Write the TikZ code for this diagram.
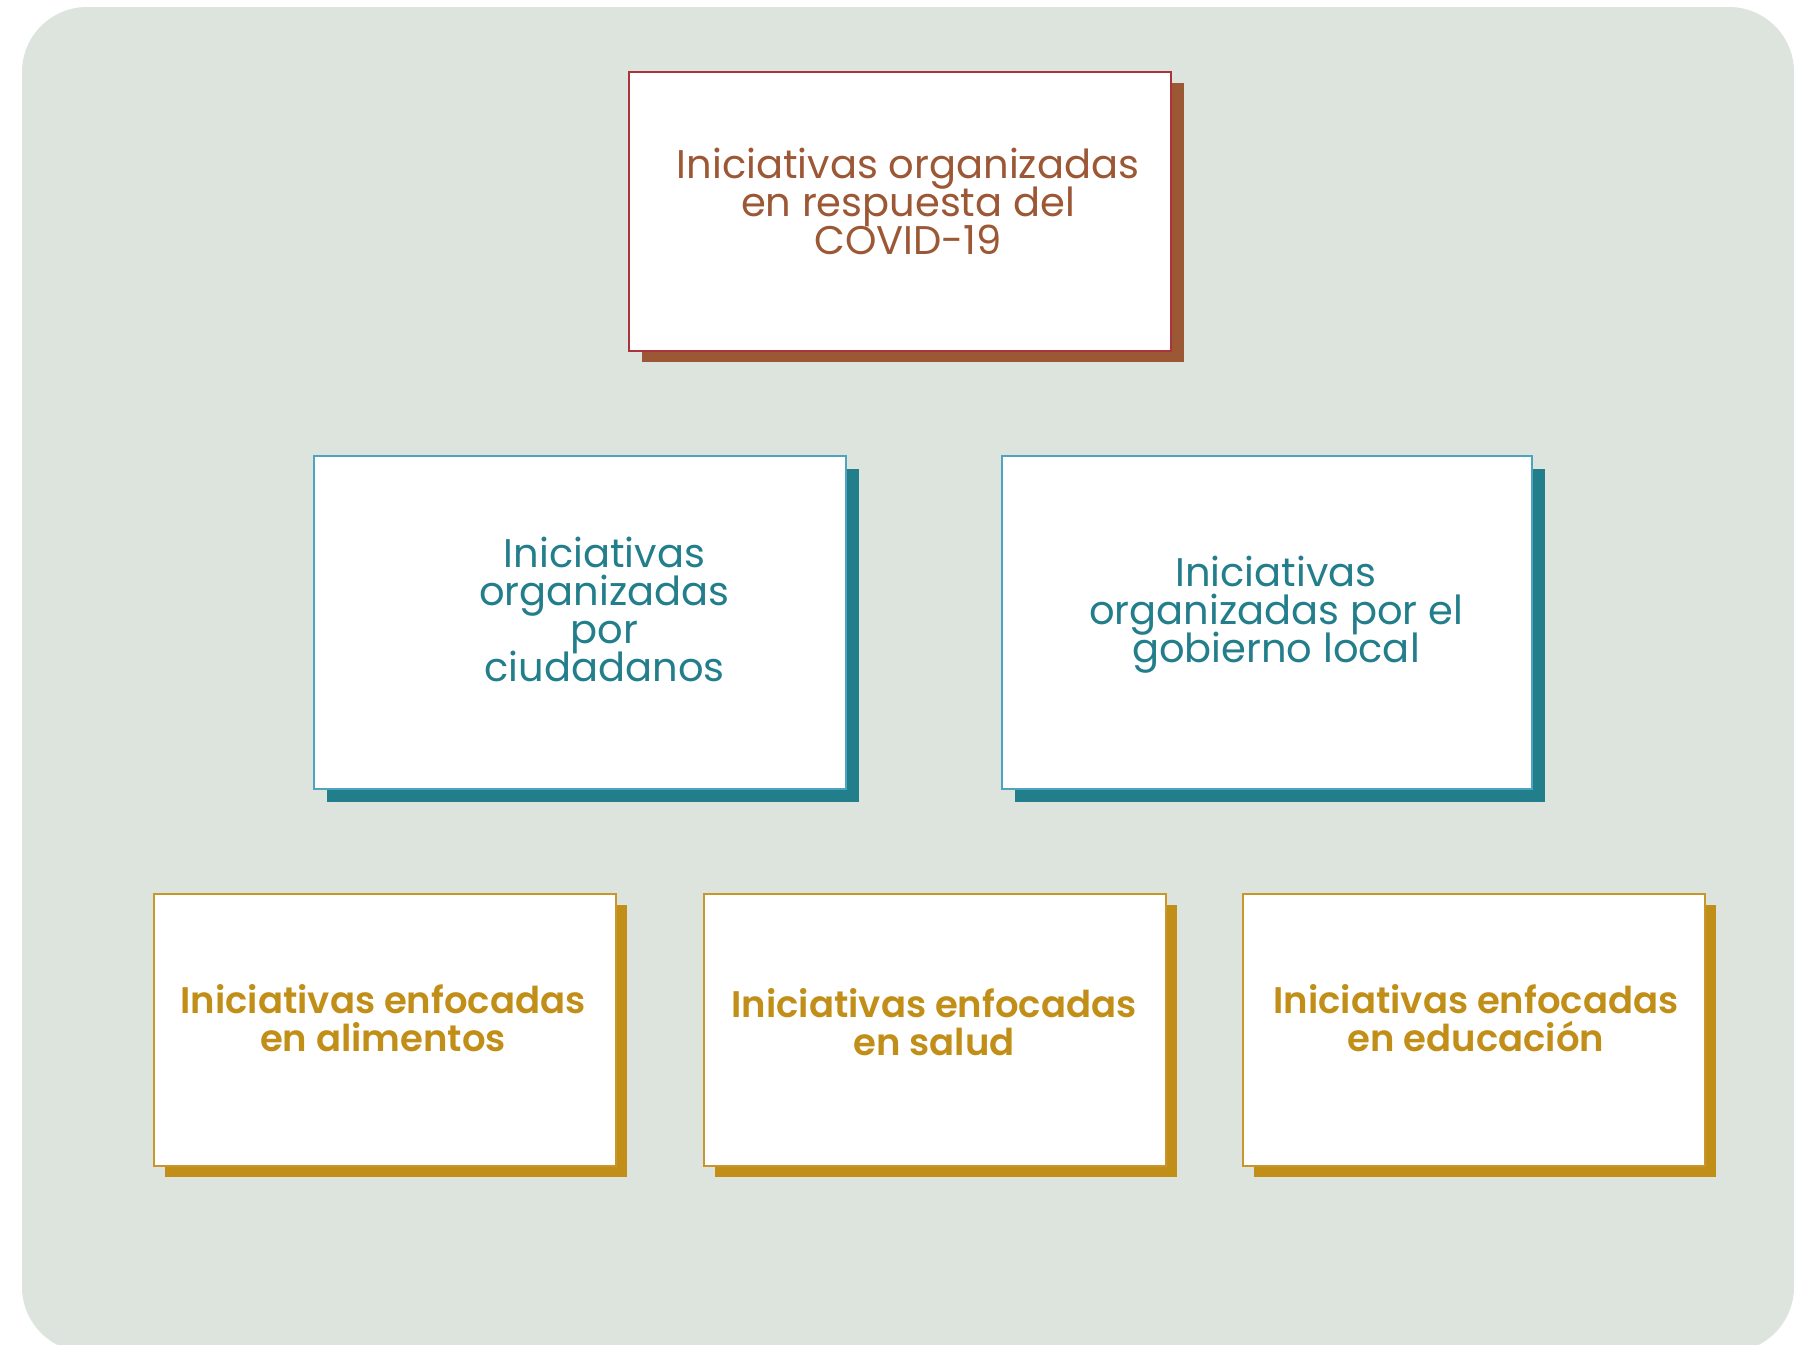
\documentclass[tikz,border=0pt]{standalone}
\usepackage{fontspec}
\setmainfont{Poppins}
\newfontfamily\popsemi{Poppins SemiBold}
\usetikzlibrary{shadows}
\newcommand\mytightls{\lineskiplimit=-50pt\relax}
\definecolor{bgc}{HTML}{DDE4DE}
\definecolor{redB}{HTML}{A9343A}
\definecolor{redS}{HTML}{9C5735}
\definecolor{tealB}{HTML}{4DA3C0}
\definecolor{tealS}{HTML}{237E8C}
\definecolor{goldB}{HTML}{C8962A}
\definecolor{goldS}{HTML}{C18E17}
\tikzset{
  card/.style={draw, fill=white, line width=2.5pt, inner sep=0pt, outer sep=0pt},
  topcard/.style={card, draw=redB, minimum width=542pt, minimum height=279pt,
     general shadow={fill=redS, shadow xshift=13pt, shadow yshift=-11pt}},
  midcard/.style={card, draw=tealB, minimum width=532pt, minimum height=333pt,
     general shadow={fill=tealS, shadow xshift=13pt, shadow yshift=-13pt}},
  botcard/.style={card, draw=goldB, minimum width=462pt, minimum height=272pt,
     general shadow={fill=goldS, shadow xshift=11pt, shadow yshift=-11pt}},
  toptext/.style={anchor=base, align=center, inner sep=0pt, text=redS, font=\fontsize{40}{38}\selectfont\mytightls},
  midtext/.style={anchor=base, align=center, inner sep=0pt, text=tealS, font=\fontsize{40}{38}\selectfont\mytightls},
  bottext/.style={anchor=base, align=center, inner sep=0pt, text=goldS, font=\popsemi\fontsize{37}{38.4}\selectfont\mytightls},
}
\begin{document}
\begin{tikzpicture}[x=1pt, y=-1pt]
\useasboundingbox (0,0) rectangle (1809,1344);
\clip (0,0) rectangle (1809,1344);
\fill[bgc, rounded corners=65pt] (22,7) rectangle (1794,1352);

\node[topcard] (top) at (900,211.5) {};
\node[toptext] (ttop) at (908,254.3) {Iniciativas organizadas\\en respuesta del\\COVID-19};

\node[midcard] (ml) at (580,622.5) {};
\node[midtext] (tml) at (604.5,681) {Iniciativas\\organizadas\\por\\ciudadanos};

\node[midcard, minimum width=530pt] (mr) at (1267,622.5) {};
\node[midtext] (tmr) at (1276,662.7) {Iniciativas\\organizadas por el\\gobierno local};

\node[botcard] (bl) at (385,1030) {};
\node[bottext] (tbl) at (383,1051.7) {Iniciativas enfocadas\\en alimentos};

\node[botcard] (bm) at (935,1030) {};
\node[bottext] (tbm) at (934,1055.7) {Iniciativas enfocadas\\en salud};

\node[botcard] (br) at (1474,1030) {};
\node[bottext] (tbr) at (1476,1051.7) {Iniciativas enfocadas\\en educación};
\end{tikzpicture}
\end{document}
